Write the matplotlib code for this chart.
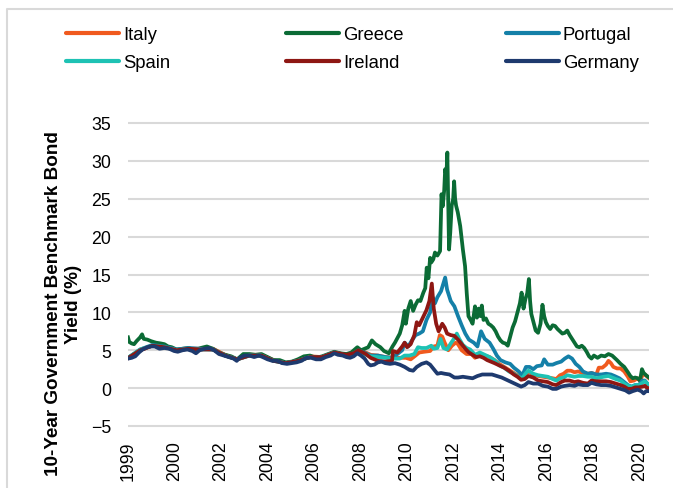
import matplotlib.pyplot as plt
from matplotlib.lines import Line2D

plt.rcParams['font.family'] = ['Liberation Sans', 'DejaVu Sans']

# 10-year benchmark yields (%); time as decimal year
italy_t = [1999.0, 1999.5, 2000.0, 2000.5, 2001.0, 2001.5, 2002.0, 2002.5, 2003.0, 2003.5,
           2004.0, 2004.5, 2005.0, 2005.5, 2006.0, 2006.5, 2007.0, 2007.5, 2008.0, 2008.3,
           2008.5, 2008.8, 2009.0, 2009.3, 2009.6, 2009.9, 2010.2, 2010.45, 2010.65, 2010.85,
           2011.0, 2011.2, 2011.45, 2011.6, 2011.75, 2011.85, 2011.95, 2012.05, 2012.2, 2012.35,
           2012.5, 2012.6, 2012.75, 2012.95, 2013.15, 2013.3, 2013.5, 2013.7, 2013.9, 2014.1,
           2014.3, 2014.5, 2014.7, 2014.9, 2015.1, 2015.25, 2015.4, 2015.5, 2015.7, 2015.9,
           2016.1, 2016.3, 2016.5, 2016.65, 2016.8, 2016.95, 2017.1, 2017.25, 2017.4, 2017.55,
           2017.75, 2017.95, 2018.1, 2018.3, 2018.4, 2018.55, 2018.7, 2018.8, 2018.9, 2019.0,
           2019.15, 2019.3, 2019.45, 2019.6, 2019.7, 2019.85, 2020.0, 2020.1, 2020.2, 2020.3,
           2020.4, 2020.47]
italy_y = [4.0, 5.0, 5.6, 5.5, 5.0, 5.2, 5.2, 5.2, 4.4, 3.8,
           4.4, 4.4, 3.7, 3.3, 3.6, 4.2, 4.1, 4.7, 4.4, 4.6,
           5.0, 4.7, 4.4, 4.3, 4.1, 4.0, 4.0, 4.0, 3.8, 4.3,
           4.7, 4.8, 4.9, 5.5, 5.6, 7.0, 6.8, 6.0, 5.0, 5.6,
           6.0, 5.8, 5.0, 4.5, 4.5, 4.0, 4.4, 4.3, 4.1, 3.7,
           3.2, 2.8, 2.4, 2.0, 1.6, 1.3, 1.9, 2.2, 1.8, 1.6,
           1.5, 1.4, 1.3, 1.2, 1.7, 1.9, 2.3, 2.3, 2.1, 2.2,
           2.0, 1.9, 2.0, 1.8, 2.7, 2.7, 3.1, 3.6, 3.3, 2.8,
           2.6, 2.6, 2.2, 1.5, 0.9, 1.0, 1.3, 0.95, 1.7, 1.8,
           1.5, 1.3]

greece_t = [1999.0, 1999.05, 1999.15, 1999.25, 1999.35, 1999.5, 1999.58, 1999.65, 1999.8, 1999.95,
            2000.15, 2000.35, 2000.5, 2000.65, 2000.8, 2001.0, 2001.25, 2001.5, 2001.75, 2002.0,
            2002.25, 2002.5, 2002.75, 2003.0, 2003.25, 2003.5, 2003.75, 2004.0, 2004.25, 2004.5,
            2004.75, 2005.0, 2005.25, 2005.5, 2005.75, 2006.0, 2006.25, 2006.5, 2006.75, 2007.0,
            2007.25, 2007.5, 2007.75, 2008.0, 2008.2, 2008.45, 2008.6, 2008.75, 2008.9, 2009.05,
            2009.2, 2009.4, 2009.55, 2009.75, 2009.9, 2010.0, 2010.1, 2010.2, 2010.3, 2010.4,
            2010.45, 2010.55, 2010.65, 2010.75, 2010.85, 2010.95, 2011.05, 2011.17, 2011.25, 2011.31,
            2011.38, 2011.45, 2011.5, 2011.58, 2011.65, 2011.75, 2011.86, 2011.92, 2011.97, 2012.03,
            2012.07, 2012.12, 2012.16, 2012.2, 2012.23, 2012.28, 2012.34, 2012.4, 2012.44, 2012.48,
            2012.52, 2012.59, 2012.69, 2012.8, 2012.89, 2012.96, 2013.03, 2013.12, 2013.2, 2013.3,
            2013.38, 2013.45, 2013.52, 2013.58, 2013.65, 2013.75, 2013.85, 2013.95, 2014.05, 2014.15,
            2014.25, 2014.35, 2014.45, 2014.55, 2014.65, 2014.75, 2014.85, 2014.95, 2015.05, 2015.15,
            2015.22, 2015.3, 2015.38, 2015.45, 2015.52, 2015.57, 2015.62, 2015.7, 2015.8, 2015.9,
            2016.0, 2016.08, 2016.15, 2016.22, 2016.3, 2016.4, 2016.5, 2016.6, 2016.7, 2016.8,
            2016.9, 2017.0, 2017.1, 2017.2, 2017.3, 2017.4, 2017.5, 2017.6, 2017.7, 2017.8,
            2017.9, 2018.0, 2018.1, 2018.2, 2018.35, 2018.5, 2018.65, 2018.8, 2018.95, 2019.05,
            2019.15, 2019.3, 2019.45, 2019.6, 2019.7, 2019.8, 2019.9, 2020.0, 2020.1, 2020.18,
            2020.25, 2020.35, 2020.47]
greece_y = [6.7, 6.1, 5.9, 5.8, 6.2, 6.7, 7.1, 6.5, 6.4, 6.2,
            6.0, 5.9, 5.8, 5.5, 5.4, 5.1, 5.2, 5.3, 5.0, 5.3,
            5.5, 5.2, 4.7, 4.4, 4.2, 3.8, 4.5, 4.5, 4.4, 4.5,
            4.1, 3.7, 3.7, 3.4, 3.5, 3.8, 4.2, 4.3, 4.0, 4.2,
            4.5, 4.8, 4.6, 4.5, 4.7, 5.4, 5.0, 5.2, 5.4, 6.3,
            5.8, 5.4, 4.9, 4.6, 5.5, 6.0, 6.6, 7.2, 8.3, 10.2,
            8.5, 10.5, 11.5, 10.2, 11.0, 11.6, 11.5, 12.6, 13.2, 15.9,
            14.5, 17.2, 16.6, 17.0, 17.9, 17.5, 18.1, 25.6, 24.0, 26.1,
            28.9, 28.0, 31.1, 24.0, 18.3, 20.5, 24.1, 25.0, 27.3, 25.0,
            24.1, 23.2, 21.4, 18.3, 16.1, 12.5, 9.5, 9.0, 8.5, 10.8,
            9.3, 10.5, 9.5, 10.9, 9.0, 9.2, 8.5, 8.3, 8.0, 7.5,
            6.8, 6.3, 6.0, 5.9, 5.6, 6.8, 8.0, 8.8, 10.0, 11.2,
            12.6, 10.5, 11.8, 12.5, 14.4, 11.5, 9.8, 8.8, 7.6, 7.3,
            8.5, 11.0, 9.5, 8.7, 8.2, 7.8, 8.3, 8.2, 7.8, 7.5,
            7.2, 7.3, 7.6, 7.0, 6.5, 6.0, 5.5, 5.4, 5.6, 5.3,
            4.8, 4.2, 3.9, 4.3, 4.0, 4.3, 4.2, 4.5, 4.3, 4.0,
            3.7, 3.2, 2.8, 2.1, 1.6, 1.3, 1.4, 1.3, 1.0, 2.5,
            2.0, 1.7, 1.4]

portugal_t = [1999.0, 1999.5, 2000.0, 2000.5, 2001.0, 2001.5, 2002.0, 2002.5, 2003.0, 2003.5,
              2004.0, 2004.5, 2005.0, 2005.5, 2006.0, 2006.5, 2007.0, 2007.5, 2008.0, 2008.3,
              2008.5, 2008.8, 2009.0, 2009.3, 2009.6, 2009.9, 2010.1, 2010.3, 2010.4, 2010.55,
              2010.7, 2010.85, 2011.0, 2011.15, 2011.3, 2011.45, 2011.55, 2011.65, 2011.75, 2011.9,
              2012.07, 2012.15, 2012.3, 2012.45, 2012.6, 2012.75, 2012.9, 2013.05, 2013.25, 2013.4,
              2013.55, 2013.7, 2013.9, 2014.05, 2014.2, 2014.35, 2014.55, 2014.75, 2014.9, 2015.1,
              2015.25, 2015.4, 2015.55, 2015.7, 2015.85, 2016.05, 2016.15, 2016.3, 2016.5, 2016.65,
              2016.85, 2017.0, 2017.15, 2017.3, 2017.45, 2017.6, 2017.75, 2017.95, 2018.1, 2018.3,
              2018.5, 2018.7, 2018.9, 2019.05, 2019.25, 2019.45, 2019.6, 2019.75, 2019.9, 2020.05,
              2020.2, 2020.3, 2020.4, 2020.47]
portugal_y = [4.0, 5.1, 5.7, 5.5, 5.1, 5.3, 5.2, 5.1, 4.3, 3.8,
              4.3, 4.3, 3.6, 3.3, 3.6, 4.1, 4.1, 4.7, 4.3, 4.6,
              5.0, 4.6, 4.3, 4.3, 4.1, 4.0, 4.5, 5.0, 6.0, 5.5,
              6.3, 7.0, 7.2, 7.5, 9.0, 10.0, 12.0, 11.2, 12.0, 12.8,
              14.6, 13.0, 11.5, 10.8, 9.5, 8.3, 7.2, 6.4, 6.0, 5.5,
              7.5, 6.5, 6.0, 5.2, 4.3, 3.7, 3.4, 3.2, 2.7, 2.2,
              1.7, 2.8, 2.8, 2.5, 2.9, 3.0, 3.8, 3.1, 3.1, 3.3,
              3.5, 3.9, 4.2, 3.9, 3.2, 2.8, 2.2, 1.9, 2.0, 1.8,
              1.8, 1.9, 1.8, 1.6, 1.3, 0.8, 0.4, 0.2, 0.4, 0.4,
              1.0, 1.0, 0.6, 0.5]

spain_t = [1999.0, 1999.5, 2000.0, 2000.5, 2001.0, 2001.5, 2002.0, 2002.5, 2003.0, 2003.5,
           2004.0, 2004.5, 2005.0, 2005.5, 2006.0, 2006.5, 2007.0, 2007.5, 2008.0, 2008.3,
           2008.5, 2008.8, 2009.0, 2009.3, 2009.6, 2009.9, 2010.2, 2010.4, 2010.6, 2010.8,
           2010.95, 2011.1, 2011.3, 2011.5, 2011.6, 2011.75, 2011.88, 2012.0, 2012.15, 2012.3,
           2012.45, 2012.55, 2012.65, 2012.8, 2012.95, 2013.1, 2013.3, 2013.5, 2013.7, 2013.9,
           2014.1, 2014.3, 2014.5, 2014.7, 2014.9, 2015.1, 2015.25, 2015.4, 2015.5, 2015.7,
           2015.9, 2016.1, 2016.3, 2016.5, 2016.65, 2016.8, 2016.95, 2017.1, 2017.25, 2017.4,
           2017.55, 2017.75, 2017.95, 2018.1, 2018.3, 2018.45, 2018.6, 2018.8, 2018.95, 2019.1,
           2019.3, 2019.45, 2019.6, 2019.75, 2019.9, 2020.05, 2020.2, 2020.3, 2020.4, 2020.47]
spain_y = [4.0, 5.1, 5.6, 5.4, 5.0, 5.2, 5.1, 5.1, 4.3, 3.8,
           4.3, 4.3, 3.6, 3.3, 3.6, 4.1, 4.1, 4.7, 4.3, 4.5,
           4.9, 4.4, 4.2, 4.1, 4.0, 3.9, 3.9, 4.3, 4.3, 4.5,
           5.4, 5.3, 5.3, 5.6, 5.2, 5.3, 6.5, 5.3, 5.1, 5.9,
           6.6, 7.2, 6.5, 5.7, 5.3, 5.1, 4.4, 4.7, 4.4, 4.1,
           3.7, 3.0, 2.7, 2.2, 1.9, 1.5, 1.3, 2.0, 2.3, 1.9,
           1.7, 1.6, 1.5, 1.2, 1.0, 1.3, 1.4, 1.7, 1.6, 1.5,
           1.6, 1.6, 1.5, 1.5, 1.3, 1.4, 1.5, 1.6, 1.4, 1.2,
           1.0, 0.6, 0.3, 0.2, 0.4, 0.4, 0.7, 0.9, 0.6, 0.5]

ireland_t = [1999.0, 1999.5, 2000.0, 2000.5, 2001.0, 2001.5, 2002.0, 2002.5, 2003.0, 2003.5,
             2004.0, 2004.5, 2005.0, 2005.5, 2006.0, 2006.5, 2007.0, 2007.5, 2008.0, 2008.3,
             2008.5, 2008.8, 2009.0, 2009.3, 2009.6, 2009.88, 2009.92, 2010.1, 2010.3, 2010.4,
             2010.5, 2010.65, 2010.8, 2010.9, 2011.0, 2011.15, 2011.3, 2011.42, 2011.52, 2011.6,
             2011.7, 2011.8, 2011.95, 2012.05, 2012.15, 2012.3, 2012.45, 2012.6, 2012.75, 2012.9,
             2013.05, 2013.2, 2013.35, 2013.5, 2013.65, 2013.8, 2013.95, 2014.1, 2014.3, 2014.5,
             2014.7, 2014.9, 2015.05, 2015.2, 2015.35, 2015.5, 2015.7, 2015.9, 2016.1, 2016.3,
             2016.5, 2016.65, 2016.85, 2017.0, 2017.2, 2017.4, 2017.55, 2017.75, 2017.95, 2018.1,
             2018.3, 2018.5, 2018.7, 2018.9, 2019.1, 2019.3, 2019.45, 2019.6, 2019.75, 2019.9,
             2020.05, 2020.2, 2020.3, 2020.4, 2020.47]
ireland_y = [3.95, 5.0, 5.6, 5.4, 5.0, 5.2, 5.1, 5.1, 4.3, 3.8,
             4.3, 4.3, 3.6, 3.3, 3.6, 4.1, 4.1, 4.7, 4.4, 4.6,
             5.0, 4.5, 4.0, 3.6, 3.5, 3.6, 4.9, 4.7, 5.5, 6.0,
             5.4, 5.8, 7.0, 8.7, 8.3, 9.3, 10.3, 11.5, 13.8, 10.5,
             8.5, 7.5, 8.5, 8.0, 7.2, 7.0, 6.9, 6.4, 5.8, 5.2,
             4.7, 4.4, 4.1, 4.2, 4.0, 3.7, 3.5, 3.3, 3.0, 2.7,
             2.3, 1.8, 1.5, 1.1, 1.2, 1.6, 1.4, 1.0, 0.9, 0.8,
             0.5, 0.4, 0.8, 1.0, 1.0, 0.8, 0.9, 0.7, 0.6, 1.0,
             0.9, 0.9, 0.9, 0.8, 0.6, 0.4, 0.2, -0.1, -0.1, 0.1,
             0.1, 0.2, 0.3, 0.0, 0.0]

germany_t = [1999.0, 1999.15, 1999.3, 1999.45, 1999.6, 1999.8, 1999.95, 2000.1, 2000.3, 2000.5,
             2000.7, 2000.9, 2001.05, 2001.25, 2001.45, 2001.65, 2001.8, 2001.95, 2002.15, 2002.35,
             2002.55, 2002.75, 2002.95, 2003.15, 2003.35, 2003.48, 2003.6, 2003.8, 2004.0, 2004.2,
             2004.4, 2004.55, 2004.75, 2004.95, 2005.15, 2005.35, 2005.55, 2005.75, 2005.95, 2006.15,
             2006.35, 2006.55, 2006.75, 2006.95, 2007.15, 2007.35, 2007.5, 2007.65, 2007.85, 2008.0,
             2008.15, 2008.3, 2008.45, 2008.6, 2008.75, 2008.9, 2009.0, 2009.15, 2009.3, 2009.45,
             2009.6, 2009.8, 2010.0, 2010.2, 2010.4, 2010.6, 2010.75, 2010.9, 2011.1, 2011.3,
             2011.45, 2011.6, 2011.75, 2011.9, 2012.05, 2012.25, 2012.45, 2012.6, 2012.8, 2013.0,
             2013.2, 2013.4, 2013.6, 2013.8, 2014.0, 2014.2, 2014.4, 2014.6, 2014.8, 2015.0,
             2015.2, 2015.35, 2015.5, 2015.7, 2015.9, 2016.1, 2016.3, 2016.5, 2016.65, 2016.85,
             2017.0, 2017.2, 2017.4, 2017.55, 2017.75, 2017.95, 2018.1, 2018.3, 2018.5, 2018.7,
             2018.9, 2019.1, 2019.3, 2019.5, 2019.65, 2019.8, 2020.0, 2020.15, 2020.25, 2020.35,
             2020.47]
germany_y = [3.9, 4.0, 4.2, 4.7, 5.1, 5.4, 5.5, 5.5, 5.2, 5.3,
             5.2, 4.9, 4.8, 5.0, 5.1, 4.9, 4.6, 5.0, 5.2, 5.3,
             5.0, 4.5, 4.3, 4.1, 3.9, 3.6, 4.0, 4.3, 4.3, 4.1,
             4.3, 4.1, 3.8, 3.6, 3.6, 3.3, 3.2, 3.3, 3.4, 3.6,
             4.0, 4.0, 3.8, 3.8, 4.1, 4.3, 4.6, 4.4, 4.3, 4.1,
             4.0, 4.2, 4.6, 4.3, 3.9, 3.2, 3.0, 3.1, 3.4, 3.5,
             3.3, 3.2, 3.3, 3.1, 2.8, 2.4, 2.3, 2.8, 3.2, 3.4,
             3.1, 2.5, 1.9, 2.0, 1.9, 1.8, 1.4, 1.4, 1.5, 1.4,
             1.3, 1.6, 1.8, 1.8, 1.8, 1.6, 1.4, 1.1, 0.8, 0.5,
             0.2, 0.4, 0.8, 0.6, 0.6, 0.3, 0.2, -0.1, -0.1, 0.2,
             0.3, 0.4, 0.3, 0.5, 0.4, 0.4, 0.7, 0.5, 0.4, 0.4,
             0.3, 0.1, -0.1, -0.3, -0.6, -0.4, -0.2, -0.4, -0.7, -0.4,
             -0.4]

countries = ["Italy", "Greece", "Portugal", "Spain", "Ireland", "Germany"]
colors = ["#F05A1E", "#0B6B35", "#1480A8", "#1EC2B4", "#8E1713", "#1E3A6E"]
times = [italy_t, greece_t, portugal_t, spain_t, ireland_t, germany_t]
yields = [italy_y, greece_y, portugal_y, spain_y, ireland_y, germany_y]

tick_labels = ["1999", "2000", "2002", "2004", "2006", "2008",
               "2010", "2012", "2014", "2016", "2018", "2020"]

W, H = 673, 489
fig = plt.figure(figsize=(W / 100, H / 100), dpi=100)

# plot area: 35 at y=124px, -5 at y=427px
ylo, yhi = -5.2, 35.2
ppu = (427 - 124) / 40.0
top_px = 124 - (yhi - 35) * ppu
bot_px = 427 + (-5 - ylo) * ppu
ax = fig.add_axes([128 / W, 1 - bot_px / H, (649 - 128) / W, (bot_px - top_px) / H])

for name, t, y, c in zip(countries, times, yields, colors):
    ax.plot(t, y, color=c, lw=2.7, solid_joinstyle='round', label=name)

ax.set_xlim(1999.0, 2020.47)
ax.set_ylim(ylo, yhi)
ax.set_yticks(range(-5, 36, 5))
# excel puts a label every 500 trading days
step = 500 / 260.9
ax.set_xticks([1999.0 + k * step for k in range(len(tick_labels))])
ax.set_xticklabels(tick_labels, rotation=90)

ax.grid(axis='y', color='#D9D9D9', lw=1.5)
ax.grid(axis='x', visible=False)
ax.set_axisbelow(True)
for s in ax.spines.values():
    s.set_visible(False)
ax.tick_params(length=0, labelsize=12.8, colors='black')
ax.tick_params(axis='y', pad=12)
ax.tick_params(axis='x', pad=9)

fig.text(63.5 / W, 1 - 304 / H, "10-Year Government Benchmark Bond\nYield (%)",
         rotation=90, ha='center', va='center', multialignment='center',
         fontsize=13.6, fontweight='bold')

# legend, 3 columns x 2 rows
for i, (name, c) in enumerate(zip(countries, colors)):
    col, row = i % 3, i // 3
    x0 = (66 + 220 * col) / W
    yy = 1 - (34 + 28 * row) / H
    fig.add_artist(Line2D([x0, x0 + 53 / W], [yy, yy], color=c, lw=3,
                          solid_capstyle='round', transform=fig.transFigure))
    fig.text(x0 + 57 / W, yy, name, va='center_baseline', ha='left', fontsize=13.3)

# light frame (top and left edges visible)
fig.add_artist(Line2D([6.5 / W, 6.5 / W, 1.0], [0.0, 1 - 10 / H, 1 - 10 / H],
                      color='#D9D9D9', lw=1.5, transform=fig.transFigure))

fig.savefig('out.png', dpi=100)
